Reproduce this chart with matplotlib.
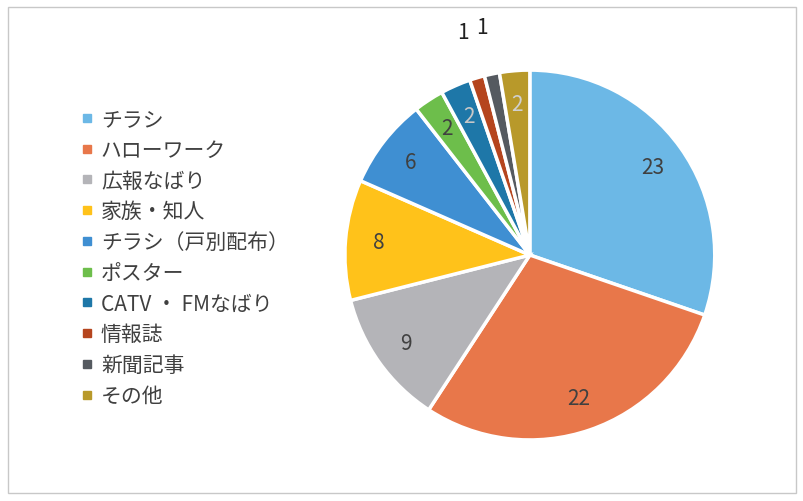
import matplotlib
matplotlib.use('Agg')
import matplotlib.pyplot as plt
from matplotlib.lines import Line2D
from matplotlib.patches import Rectangle
import numpy as np

plt.rcParams['font.family'] = ['Noto Sans CJK JP', 'DejaVu Sans']

labels = ['チラシ', 'ハローワーク', '広報なばり', '家族・知人', 'チラシ（戸別配布）',
          'ポスター', 'CATV ・ FMなばり', '情報誌', '新聞記事', 'その他']
values = [23, 22, 9, 8, 6, 2, 2, 1, 1, 2]
colors = ['#6CB8E6', '#E8774A', '#B4B4B8', '#FFC21A', '#3F8FD2',
          '#6DBE4B', '#1E77A8', '#B5451E', '#555A60', '#B8992A']
text_colors = ['#404040', '#404040', '#404040', '#404040', '#404040',
               '#404040', '#C8C8C8', '#202020', '#202020', '#D0D0D0']

fig = plt.figure(figsize=(8.04, 5.02), dpi=100)
fig.patches.append(Rectangle((0.01, 0.015), 0.98, 0.97, transform=fig.transFigure,
                             fill=False, edgecolor='#C8C8C8', linewidth=1))

ax = fig.add_axes([0.429, 0.1215, 0.46, 0.737])
wedges, _ = ax.pie(values, colors=colors, startangle=90, counterclock=False,
                   wedgeprops=dict(edgecolor='white', linewidth=2.5))
ax.set_xlim(-1, 1)
ax.set_ylim(-1, 1)
ax.set_aspect('equal')

# data labels, tiny slices go outside
total = sum(values)
cum = 0
for v, c in zip(values, text_colors):
    mid = (cum + v / 2) / total * 2 * np.pi
    cum += v
    r = 1.26 if v == 1 else 0.82
    ax.text(r * np.sin(mid), r * np.cos(mid), str(v), ha='center', va='center',
            fontsize=15, color=c)

handles = [Line2D([], [], marker='s', linestyle='none', markersize=6,
                  markerfacecolor=col, markeredgecolor=col) for col in colors]
fig.legend(handles, labels, loc='upper left', bbox_to_anchor=(0.075, 0.82),
           frameon=False, fontsize=15, labelspacing=0.42, handletextpad=0.25,
           handlelength=0.8, labelcolor='#404040')

fig.savefig('out.png', dpi=100)
